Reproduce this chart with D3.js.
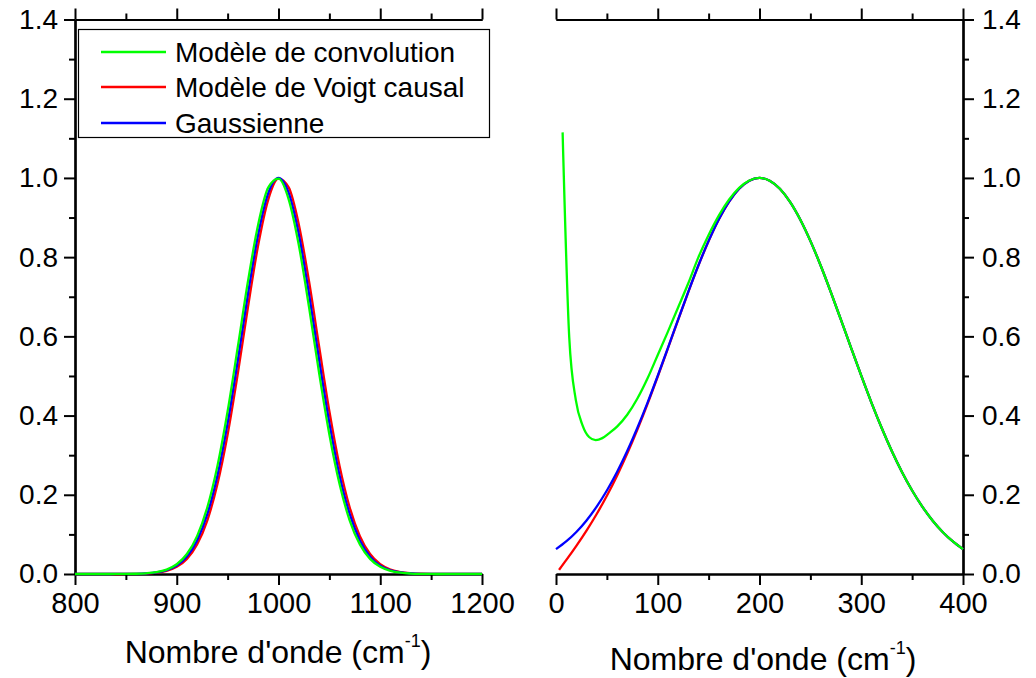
<!DOCTYPE html>
<html>
<head>
<meta charset="utf-8">
<script src="https://cdn.jsdelivr.net/npm/d3@7"></script>
<style>
  body { margin: 0; background: #fff; }
  svg { display: block; }
  text { font-family: "Liberation Sans", Arial, sans-serif; fill: #000; }
</style>
</head>
<body>
<svg id="chart" width="1036" height="678"></svg>
<script>
// ---- Left panel: band centred near 1000 cm-1 ----
const xLeft = [800,810,820,830,840,850,860,870,880,890,900,910,920,930,940,950,960,970,980,990,
               1000,1010,1020,1030,1040,1050,1060,1070,1080,1090,1100,1110,1120,1130,1140,1150,1160,1170,1180,1190,1200];
const convLeft = [0,0,0,0,0.0001,0.0002,0.0006,0.0018,0.0046,0.0111,0.0246,0.0504,0.0956,0.168,0.273,0.411,0.573,0.739,0.882,0.976,
                  0.998,0.946,0.830,0.674,0.506,0.352,0.227,0.135,0.0747,0.0382,0.0181,0.0079,0.0032,0.0012,0.0004,0.0001,0,0,0,0,0];
const voigtLeft = [0,0,0,0,0,0.0001,0.0004,0.0012,0.0032,0.0079,0.0181,0.0382,0.0747,0.135,0.227,0.352,0.506,0.674,0.830,0.946,
                   0.998,0.976,0.882,0.739,0.573,0.411,0.273,0.168,0.0956,0.0504,0.0246,0.0111,0.0046,0.0018,0.0006,0.0002,0.0001,0,0,0,0];
const gaussLeft = [0,0,0,0,0.0001,0.0002,0.0005,0.0015,0.0039,0.0094,0.0211,0.0439,0.0847,0.151,0.249,0.381,0.539,0.707,0.857,0.962,
                   1,0.962,0.857,0.707,0.539,0.381,0.249,0.151,0.0847,0.0439,0.0211,0.0094,0.0039,0.0015,0.0005,0.0002,0.0001,0,0,0,0];

// ---- Right panel: band centred near 200 cm-1 ----
const xRight = [0,10,20,30,40,50,60,70,80,90,100,110,120,130,140,150,160,170,180,190,
                200,210,220,230,240,250,260,270,280,290,300,310,320,330,340,350,360,370,380,390,400];
const gaussRight = [0.0628,0.0822,0.1062,0.1353,0.1701,0.2108,0.2576,0.3105,0.3692,0.4328,0.5006,0.5709,0.6422,0.7124,0.7795,0.8411,0.8952,0.9396,0.9727,0.9931,
                    1,0.9931,0.9727,0.9396,0.8952,0.8411,0.7795,0.7124,0.6422,0.5709,0.5006,0.4328,0.3692,0.3105,0.2576,0.2108,0.1701,0.1353,0.1062,0.0822,0.0628];
const xVoigtRight = [3,10,20,30,40,50,60,70,80,90,100,110,120,130,140,150,160,170,180,190,
                     200,210,220,230,240,250,260,270,280,290,300,310,320,330,340,350,360,370,380,390,400];
const voigtRight = [0.0105,0.0349,0.0711,0.1096,0.1515,0.1976,0.2483,0.3041,0.3648,0.4298,0.4986,0.5696,0.6413,0.7118,0.7791,0.8409,0.8952,0.9396,0.9727,0.9931,
                    1,0.9931,0.9727,0.9396,0.8952,0.8411,0.7795,0.7124,0.6422,0.5709,0.5006,0.4328,0.3692,0.3105,0.2576,0.2108,0.1701,0.1353,0.1062,0.0822,0.0628];
const xConvRight = [6.5,13,19.5,26,32.5,39,45.5,52,60,70,80,90,100,110,120,130,140,150,160,170,180,190,
                    200,210,220,230,240,250,260,270,280,290,300,310,320,330,340,350,360,370,380,390,400];
const convRight = [1.115,0.598,0.439,0.376,0.346,0.338,0.343,0.355,0.372,0.402,0.443,0.494,0.553,0.612,0.673,0.734,0.800,0.856,0.905,0.945,0.975,0.9935,
                   1,0.9931,0.9727,0.9396,0.8952,0.8411,0.7795,0.7124,0.6422,0.5709,0.5006,0.4328,0.3692,0.3105,0.2576,0.2108,0.1701,0.1353,0.1062,0.0822,0.0628];

// ---- Ticks and labels ----
const yMajor = [0,0.2,0.4,0.6,0.8,1.0,1.2,1.4];
const yMinor = [0.1,0.3,0.5,0.7,0.9,1.1,1.3];
const xLeftMajor = [800,900,1000,1100,1200];
const xLeftMinor = [850,950,1050,1150];
const xRightMajor = [0,100,200,300,400];
const xRightMinor = [50,150,250,350];
const seriesNames = ["Modèle de convolution", "Modèle de Voigt causal", "Gaussienne"];
const seriesColors = ["#00ff00", "#ff0000", "#0000ff"];
const axisTitle = "Nombre d'onde (cm";
const axisTitleSup = "-1";

const svg = d3.select("#chart");

const yScale = d3.scaleLinear().domain([0, 1.4]).range([574, 19.5]);
const xL = d3.scaleLinear().domain([800, 1200]).range([75, 482]);
const xR = d3.scaleLinear().domain([0, 400]).range([556, 963]);

const MAJOR = 11, MINOR = 6;

function styleAxis(g) {
  g.select(".domain").attr("stroke", "#000").attr("stroke-width", 2.2);
  g.selectAll(".tick line").attr("stroke", "#000").attr("stroke-width", 2);
  g.selectAll(".tick text").attr("fill", "#000").attr("font-family", null);
}

function addAxis(axisFn, scale, major, minor, transform, opts) {
  const gMinor = svg.append("g").attr("transform", transform)
    .call(axisFn(scale).tickValues(minor).tickSize(MINOR).tickSizeOuter(0).tickFormat(""));
  styleAxis(gMinor);
  const ax = axisFn(scale).tickValues(major).tickSize(MAJOR).tickSizeOuter(0)
    .tickPadding(opts.padding || 3);
  if (opts.format) ax.tickFormat(opts.format); else ax.tickFormat("");
  const gMajor = svg.append("g").attr("transform", transform).call(ax);
  styleAxis(gMajor);
  gMajor.selectAll(".tick text").attr("font-size", opts.fontSize || 28);
  return gMajor;
}

const fmtY = d3.format(".1f");
const fmtX = d3.format("d");

// left panel axes
addAxis(d3.axisLeft, yScale, yMajor, yMinor, "translate(75,0)", {format: fmtY, padding: 6, fontSize: 28});
addAxis(d3.axisBottom, xL, xLeftMajor, xLeftMinor, "translate(0,574)", {format: fmtX, padding: 7, fontSize: 29});
addAxis(d3.axisTop, xL, xLeftMajor, xLeftMinor, "translate(0,19.5)", {});

// right panel axes
addAxis(d3.axisRight, yScale, yMajor, yMinor, "translate(963,0)", {format: fmtY, padding: 8, fontSize: 28});
addAxis(d3.axisBottom, xR, xRightMajor, xRightMinor, "translate(0,574)", {format: fmtX, padding: 7, fontSize: 29});
addAxis(d3.axisTop, xR, xRightMajor, xRightMinor, "translate(0,19.5)", {});

// curves
function drawCurve(xs, ys, xScale, color) {
  const pts = xs.map((x, i) => [x, ys[i]]);
  const line = d3.line()
    .x(d => xScale(d[0]))
    .y(d => yScale(d[1]))
    .curve(d3.curveMonotoneX);
  svg.append("path")
    .datum(pts)
    .attr("d", line)
    .attr("fill", "none")
    .attr("stroke", color)
    .attr("stroke-width", 2.3)
    .attr("stroke-linejoin", "round");
}

drawCurve(xLeft, voigtLeft, xL, seriesColors[1]);
drawCurve(xLeft, gaussLeft, xL, seriesColors[2]);
drawCurve(xLeft, convLeft, xL, seriesColors[0]);

drawCurve(xVoigtRight, voigtRight, xR, seriesColors[1]);
drawCurve(xRight, gaussRight, xR, seriesColors[2]);
drawCurve(xConvRight, convRight, xR, seriesColors[0]);

// legend
const legend = svg.append("g");
legend.append("rect")
  .attr("x", 78.5).attr("y", 29.5).attr("width", 411).attr("height", 108)
  .attr("fill", "#fff").attr("stroke", "#000").attr("stroke-width", 1.2);
const legendRows = [52, 87, 123];
seriesNames.forEach((name, i) => {
  legend.append("line")
    .attr("x1", 101).attr("x2", 166)
    .attr("y1", legendRows[i]).attr("y2", legendRows[i])
    .attr("stroke", seriesColors[i]).attr("stroke-width", 2.3);
  legend.append("text")
    .attr("x", 175).attr("y", legendRows[i] + 10)
    .attr("font-size", 28)
    .text(name);
});

// axis titles with superscript
function axisLabel(cx, baseline) {
  const t = svg.append("text")
    .attr("x", cx).attr("y", baseline)
    .attr("text-anchor", "middle")
    .attr("font-size", 32);
  t.append("tspan").text(axisTitle);
  t.append("tspan").attr("font-size", 18).attr("dy", -16).text(axisTitleSup);
  t.append("tspan").attr("dy", 16).text(")");
}
axisLabel(278, 663);
axisLabel(763, 670);
</script>
</body>
</html>
